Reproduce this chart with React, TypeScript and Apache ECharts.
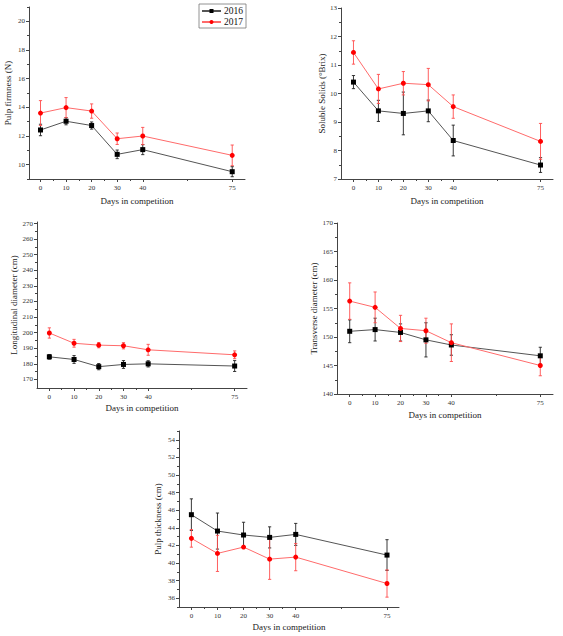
import { useEffect, useRef } from 'react';
import * as echarts from 'echarts';

// Days of storage (x values shared by all panels)
const days = [0, 10, 20, 30, 40, 75];
const dayTicks = [0, 10, 20, 30, 40, 75];
const dayMinorTicks = [5, 15, 25, 35, 57.5];

// Pulp firmness (N)
const firmness2016 = [12.42, 13.03, 12.73, 10.72, 11.05, 9.51];
const firmness2016Err = [0.4, 0.25, 0.25, 0.3, 0.35, 0.35];
const firmness2017 = [13.6, 13.98, 13.74, 11.81, 12.0, 10.65];
const firmness2017Err = [0.87, 0.7, 0.5, 0.4, 0.6, 0.72];
const firmnessTicks = [10, 12, 14, 16, 18, 20];
const firmnessMinorTicks = [9, 11, 13, 15, 17, 19, 21];

// Soluble solids (°Brix)
const solids2016 = [10.4, 9.39, 9.3, 9.39, 8.35, 7.49];
const solids2016Err = [0.23, 0.37, 0.75, 0.38, 0.54, 0.26];
const solids2017 = [11.44, 10.16, 10.36, 10.31, 9.54, 8.32];
const solids2017Err = [0.41, 0.51, 0.41, 0.57, 0.41, 0.63];
const solidsTicks = [7, 8, 9, 10, 11, 12, 13];
const solidsMinorTicks = [7.5, 8.5, 9.5, 10.5, 11.5, 12.5];

// Longitudinal diameter (cm)
const longitudinal2016 = [184.5, 182.8, 178.2, 179.6, 180.0, 178.6];
const longitudinal2016Err = [1.5, 2.5, 2.0, 2.5, 2.0, 3.5];
const longitudinal2017 = [199.8, 193.2, 192.0, 191.6, 189.0, 185.8];
const longitudinal2017Err = [3.3, 2.5, 1.7, 2.0, 3.5, 2.5];
const longitudinalTicks = [170, 180, 190, 200, 210, 220, 230, 240, 250, 260, 270];
const longitudinalMinorTicks = [175, 185, 195, 205, 215, 225, 235, 245, 255, 265];

// Transverse diameter (cm)
const transverse2016 = [151.0, 151.3, 150.8, 149.5, 148.6, 146.7];
const transverse2016Err = [2.0, 2.0, 1.5, 3.0, 1.8, 1.5];
const transverse2017 = [156.3, 155.2, 151.5, 151.1, 149.0, 145.0];
const transverse2017Err = [3.2, 2.7, 2.3, 2.2, 3.3, 1.8];
const transverseTicks = [140, 145, 150, 155, 160, 165, 170];
const transverseMinorTicks = [142.5, 147.5, 152.5, 157.5, 162.5, 167.5];

// Pulp thickness (cm)
const thickness2016 = [45.49, 43.63, 43.18, 42.91, 43.25, 40.9];
const thickness2016Err = [1.8, 2.05, 1.45, 1.2, 1.25, 1.75];
const thickness2017 = [42.8, 41.09, 41.81, 40.44, 40.67, 37.67];
const thickness2017Err = [1.0, 2.05, 0.1, 2.3, 1.55, 1.55];
const thicknessTicks = [36, 38, 40, 42, 44, 46, 48, 50, 52, 54];
const thicknessMinorTicks = [35, 37, 39, 41, 43, 45, 47, 49, 51, 53, 55];

const FONT = '"Liberation Serif", "Times New Roman", serif';

const panels = [
    {
        title: 'Pulp firmness (N)',
        grid: { left: 29, top: 7, width: 216, height: 172 },
        x: [-4.5, 80], y: [9, 21], yTicks: firmnessTicks, yMinor: firmnessMinorTicks,
        a: firmness2016, aErr: firmness2016Err, b: firmness2017, bErr: firmness2017Err,
        yGap: 17, xGap: 17,
    },
    {
        title: 'Soluble Solids (°Brix)',
        grid: { left: 341, top: 8, width: 212, height: 171 },
        x: [-5, 80], y: [7, 13], yTicks: solidsTicks, yMinor: solidsMinorTicks,
        a: solids2016, aErr: solids2016Err, b: solids2017, bErr: solids2017Err,
        yGap: 14, xGap: 17,
    },
    {
        title: 'Longitudinal diameter (cm)',
        grid: { left: 37, top: 222, width: 210, height: 166 },
        x: [-5, 80], y: [164.5, 271], yTicks: longitudinalTicks, yMinor: longitudinalMinorTicks,
        a: longitudinal2016, aErr: longitudinal2016Err, b: longitudinal2017, bErr: longitudinal2017Err,
        yGap: 19, xGap: 15,
    },
    {
        title: 'Transverse diameter (cm)',
        grid: { left: 337, top: 223, width: 216, height: 171 },
        x: [-5, 80], y: [140, 170], yTicks: transverseTicks, yMinor: transverseMinorTicks,
        a: transverse2016, aErr: transverse2016Err, b: transverse2017, bErr: transverse2017Err,
        yGap: 19, xGap: 16,
    },
    {
        title: 'Pulp thickness (cm)',
        grid: { left: 179, top: 431, width: 220, height: 176 },
        x: [-4.75, 79.6], y: [35, 55], yTicks: thicknessTicks, yMinor: thicknessMinorTicks,
        a: thickness2016, aErr: thickness2016Err, b: thickness2017, bErr: thickness2017Err,
        yGap: 17, xGap: 15,
    },
];

const axisLine = { show: true, onZero: false, lineStyle: { color: '#444', width: 1 } };
const hiddenLine = { show: false, onZero: false };
const tickColor = { color: '#444' };
const labelStyle = { fontSize: 7, color: '#333', fontFamily: FONT };
const nameStyle = { fontSize: 9, color: '#222', fontFamily: FONT };

function errorBars(color: string) {
    return (params: any, api: any) => {
        const x = api.value(0);
        const top = api.coord([x, api.value(2)]);
        const bot = api.coord([x, api.value(1)]);
        const w = 1.6;
        const style = { stroke: color, lineWidth: 0.9 };
        return {
            type: 'group',
            children: [
                { type: 'line', shape: { x1: top[0], y1: top[1], x2: bot[0], y2: bot[1] }, style },
                { type: 'line', shape: { x1: top[0] - w, y1: top[1], x2: top[0] + w, y2: top[1] }, style },
                { type: 'line', shape: { x1: bot[0] - w, y1: bot[1], x2: bot[0] + w, y2: bot[1] }, style },
            ],
        };
    };
}

export default function App() {
    const chartRef = useRef<HTMLDivElement>(null);

    useEffect(() => {
        if (!chartRef.current) return;
        const chart = echarts.init(chartRef.current, null, { renderer: 'svg' });

        const grids: any[] = [];
        const xAxes: any[] = [];
        const yAxes: any[] = [];
        const series: any[] = [];

        panels.forEach((p, i) => {
            const main = i * 2;
            const minor = i * 2 + 1;
            // main grid + an overlay grid that only carries the minor ticks
            grids.push({ ...p.grid, containLabel: false, outerBoundsMode: 'none' });
            grids.push({ ...p.grid, containLabel: false, outerBoundsMode: 'none' });

            xAxes.push({
                type: 'value', gridIndex: main, position: 'bottom', min: p.x[0], max: p.x[1],
                name: 'Days in competition', nameLocation: 'middle', nameGap: p.xGap,
                nameTextStyle: nameStyle,
                axisLine, splitLine: { show: false },
                axisTick: { show: true, customValues: dayTicks, length: 3, lineStyle: tickColor },
                axisLabel: { ...labelStyle, customValues: dayTicks, margin: 5 },
            });
            xAxes.push({
                type: 'value', gridIndex: minor, position: 'bottom', min: p.x[0], max: p.x[1],
                axisLine: hiddenLine, splitLine: { show: false },
                axisTick: { show: true, customValues: dayMinorTicks, length: 2, lineStyle: tickColor },
                axisLabel: { show: false },
            });
            yAxes.push({
                type: 'value', gridIndex: main, position: 'left', min: p.y[0], max: p.y[1],
                name: p.title, nameLocation: 'middle', nameGap: p.yGap,
                nameTextStyle: nameStyle,
                axisLine, splitLine: { show: false },
                axisTick: { show: true, customValues: p.yTicks, length: 3, lineStyle: tickColor },
                axisLabel: { ...labelStyle, customValues: p.yTicks, margin: 4 },
            });
            yAxes.push({
                type: 'value', gridIndex: minor, position: 'left', min: p.y[0], max: p.y[1],
                axisLine: hiddenLine, splitLine: { show: false },
                axisTick: { show: true, customValues: p.yMinor, length: 2, lineStyle: tickColor },
                axisLabel: { show: false },
            });

            series.push({
                type: 'custom', xAxisIndex: main, yAxisIndex: main,
                renderItem: errorBars('#222'),
                encode: { x: 0, y: [1, 2] },
                data: days.map((d, k) => [d, p.a[k] - p.aErr[k], p.a[k] + p.aErr[k]]),
                z: 2,
            });
            series.push({
                type: 'custom', xAxisIndex: main, yAxisIndex: main,
                renderItem: errorBars('#ff4d4d'),
                encode: { x: 0, y: [1, 2] },
                data: days.map((d, k) => [d, p.b[k] - p.bErr[k], p.b[k] + p.bErr[k]]),
                z: 2,
            });
            series.push({
                type: 'line', name: '2016', xAxisIndex: main, yAxisIndex: main,
                data: days.map((d, k) => [d, p.a[k]]),
                symbol: 'rect', symbolSize: 5,
                lineStyle: { color: '#555', width: 1 },
                itemStyle: { color: '#000' },
                z: 3,
            });
            series.push({
                type: 'line', name: '2017', xAxisIndex: main, yAxisIndex: main,
                data: days.map((d, k) => [d, p.b[k]]),
                symbol: 'circle', symbolSize: 5,
                lineStyle: { color: '#ff6b6b', width: 1 },
                itemStyle: { color: '#ff0000' },
                z: 3,
            });
        });

        chart.setOption({
            animation: false,
            backgroundColor: '#fff',
            legend: {
                data: ['2016', '2017'],
                orient: 'vertical',
                left: 199,
                top: 4,
                borderColor: '#777',
                borderWidth: 0.8,
                padding: [2, 3, 1, 2],
                itemGap: 1,
                itemWidth: 19,
                itemHeight: 5,
                textStyle: { fontSize: 9.5, color: '#111', fontFamily: FONT, padding: [0, 0, 0, -2] },
            },
            grid: grids,
            xAxis: xAxes,
            yAxis: yAxes,
            series,
        });

        return () => {
            chart.dispose();
        };
    }, []);

    return (
        <div
            ref={chartRef}
            style={{ position: 'absolute', left: 0, top: 0, width: 563, height: 636, background: '#fff' }}
        />
    );
}
